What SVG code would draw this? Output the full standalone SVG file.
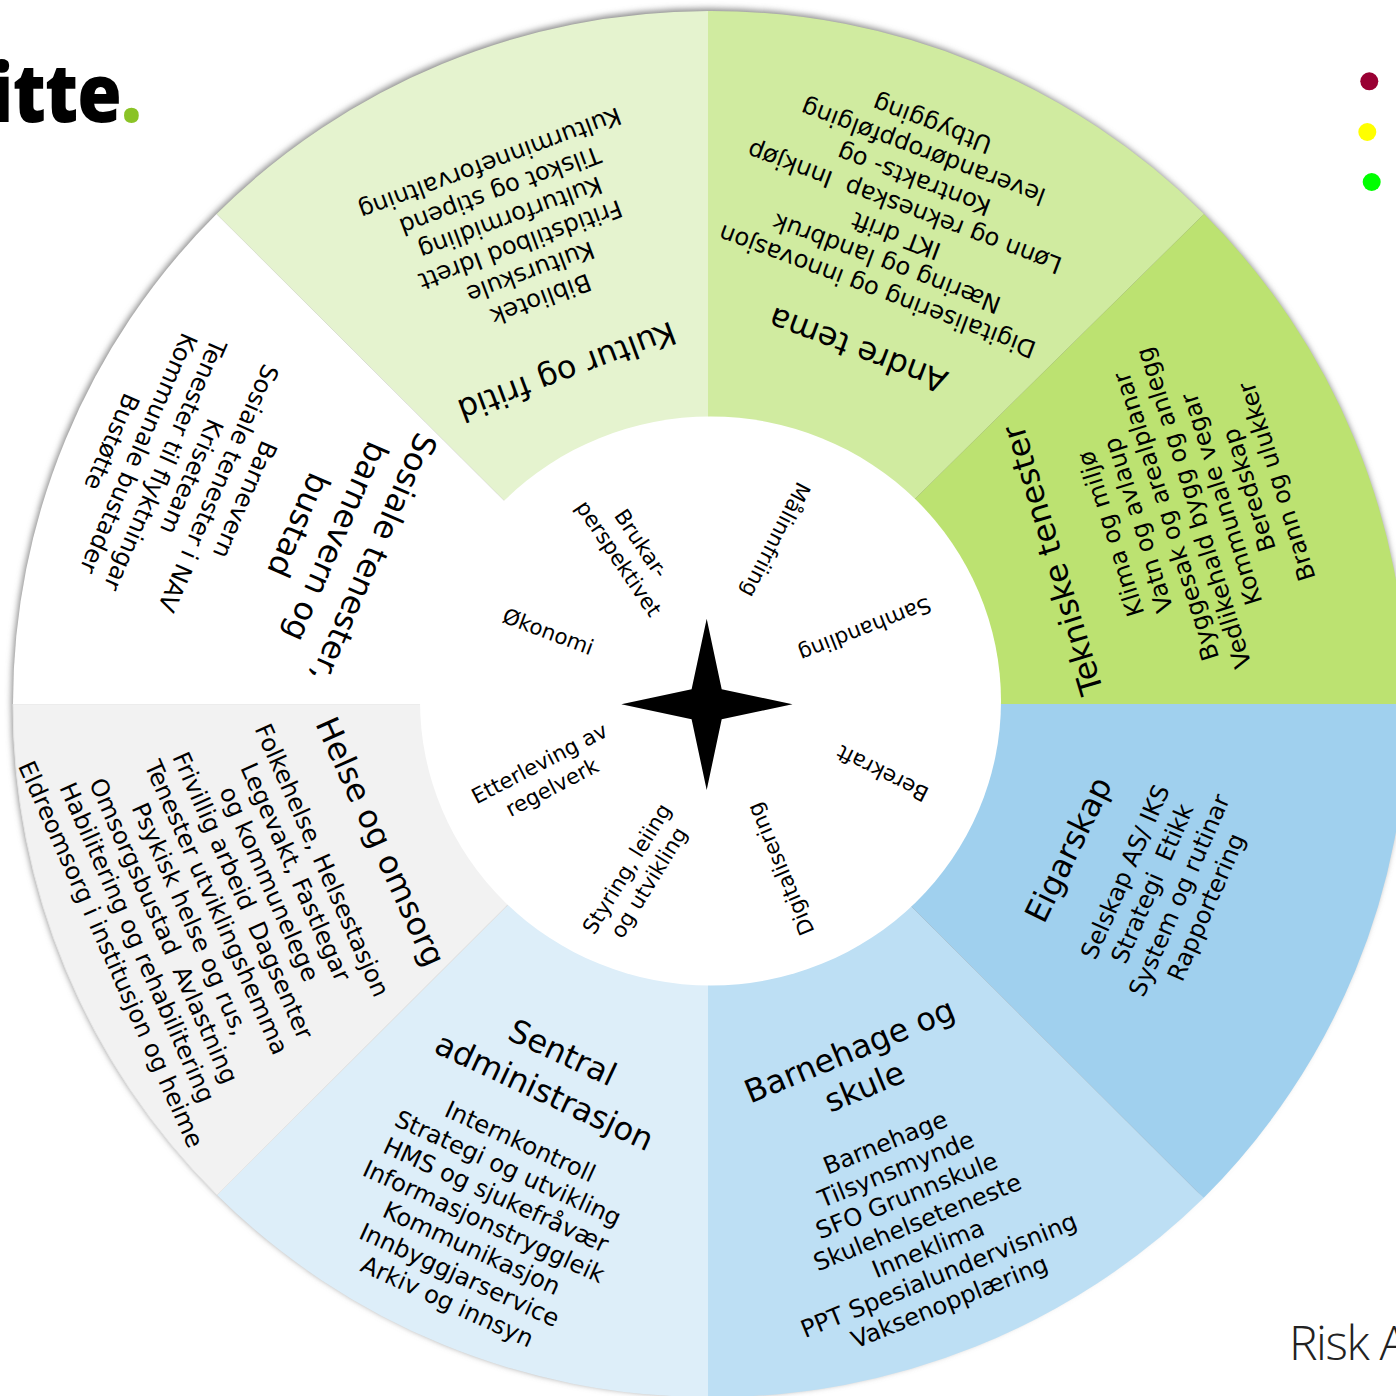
<svg xmlns="http://www.w3.org/2000/svg" width="1396" height="1396" viewBox="0 0 1396 1396">
<style>
text{font-family:"DejaVu Sans","Verdana",sans-serif;fill:#000;text-anchor:middle;white-space:pre}
.t{font-size:32px}
.b{font-size:24.2px}
.c{font-size:21.4px}
</style>
<defs><filter id="soft" x="-5%" y="-5%" width="110%" height="110%"><feGaussianBlur stdDeviation="3"/></filter></defs>
<rect width="1396" height="1396" fill="#fff"/>
<ellipse cx="709" cy="702" rx="697.5" ry="693.5" fill="#8a8a8a" filter="url(#soft)"/>
<g id="node-kultur">
<path fill="#E5F3CF" d="M708 704L504.5 501L216.5 214A697 693 0 0 1 708 11Z"/>
<text class="t" transform="translate(567 371.6) rotate(159.5)" y="11">Kultur og fritid</text>
<g transform="translate(541 300) rotate(159.5)" class="b">
<text y="9">Bibliotek</text><text y="38">Kulturskule</text><text y="67">Fritidstilbod Idrett</text><text y="96">Kulturformidling</text><text y="125">Tilskot og stipend</text><text y="154">Kulturminneforvaltning</text>
</g></g>
<g id="node-andre">
<path fill="#D0EBA0" d="M708 704L708 11A697 693 0 0 1 1204 214L917.4 496.4Z"/>
<text class="t" transform="translate(858 350) rotate(200.6)" y="11">Andre tema</text>
<g transform="translate(877 292) rotate(200.6)" class="b">
<text y="9">Digitalisering og innovasjon</text><text x="1" y="38.3">Næring og landbruk</text><text x="2" y="67.6">IKT drift</text><text x="4" y="96.9">Lønn og rekneskap  Innkjøp</text><text x="5" y="126.2">Kontrakts- og</text><text x="6" y="155.5">leverandøroppfølging</text><text x="7.5" y="184.8">Utbygging</text>
</g></g>
<g id="node-tekniske">
<path fill="#BCE271" d="M708 704L917.4 496.4L1204 214A697 693 0 0 1 1407 704Z"/>
<text class="t" transform="translate(1052.7 560) rotate(-106.7)" y="11">Tekniske tenester</text>
<g transform="translate(1110 534) rotate(-107.5)" class="b">
<text y="9">Klima og miljø</text><text y="38">Vatn og avlaup</text><text y="67">Byggesak og arealplanar</text><text y="96">Vedlikehald bygg og anlegg</text><text y="125">Kommunale vegar</text><text y="154">Beredskap</text><text y="183">Brann og ulukker</text>
</g></g>
<g id="node-eigarskap">
<path fill="#A0D0EE" d="M708 704L1407 704A697 693 0 0 1 1203.6 1198L913.4 908.5Z"/>
<text class="t" transform="translate(1068.5 849.6) rotate(-64)" y="11">Eigarskap</text>
<g transform="translate(1124.5 871.5) rotate(-66.5)" class="b">
<text y="9">Selskap AS/ IKS</text><text y="38.5">Strategi  Etikk</text><text y="68">System og rutinar</text><text y="97.5">Rapportering</text>
</g></g>
<g id="node-barnehage">
<path fill="#BDDFF4" d="M708 704L913.4 908.5L1203.6 1198A697 693 0 0 1 708 1397Z"/>
<g transform="translate(849.6 1050.7) rotate(-22.5)" class="t"><text y="11">Barnehage og</text><text y="50">skule</text></g>
<g transform="translate(885 1142) rotate(-22)" class="b">
<text y="9">Barnehage</text><text y="37.6">Tilsynsmynde</text><text y="66.2">SFO Grunnskule</text><text y="94.8">Skulehelseteneste</text><text y="123.4">Inneklima</text><text y="152">PPT Spesialundervisning</text><text y="180.6">Vaksenopplæring</text>
</g></g>
<g id="node-sentral">
<path fill="#DDEEF9" d="M708 704L708 1397A697 693 0 0 1 217 1195L506.7 906Z"/>
<g transform="translate(562.5 1052.7) rotate(25)" class="t"><text y="11">Sentral</text><text y="54">administrasjon</text></g>
<g transform="translate(520.5 1141) rotate(24.5)" class="b">
<text y="9">Internkontroll</text><text y="38.3">Strategi og utvikling</text><text y="67.6">HMS og sjukefråvær</text><text y="96.9">Informasjonstryggleik</text><text y="126.2">Kommunikasjon</text><text y="155.5">Innbyggjarservice</text><text y="184.8">Arkiv og innsyn</text>
</g></g>
<g id="node-helse">
<path fill="#F2F2F2" stroke="#E6E6E6" d="M708 704L506.7 906L217 1195A697 693 0 0 1 13 704Z"/>
<text class="t" transform="translate(380.5 841.6) rotate(65.7)" y="11">Helse og omsorg</text>
<g transform="translate(322.7 860) rotate(66)" class="b">
<text y="9">Folkehelse, Helsestasjon</text><text y="37.9">Legevakt, Fastlegar</text><text y="66.8">og kommunelege</text><text y="95.7">Frivillig arbeid  Dagsenter</text><text y="124.6">Tenester utviklingshemma</text><text y="153.5">Psykisk helse og rus,</text><text y="182.4">Omsorgsbustad  Avlastning</text><text y="211.3">Habilitering og rehabilitering</text><text y="240.2">Eldreomsorg i institusjon og heime</text>
</g></g>
<g id="node-sosiale">
<path fill="#FFFFFF" d="M708 704L13 704A697 693 0 0 1 216.5 214L504.5 501Z"/>
<g transform="translate(373.8 558) rotate(113.5)" class="t"><text y="11">Sosiale tenester,</text><text y="52">barnevern og</text><text y="93">bustad</text></g>
<g transform="translate(245.5 500) rotate(113.5)" class="b">
<text y="9">Barnevern</text><text y="38">Sosiale tenester i NAV</text><text y="67">Kriseteam</text><text y="96">Tenester til flyktningar</text><text y="125">Kommunale bustader</text><text y="154">Bustøtte</text>
</g></g>
<g id="node-hub">
<ellipse cx="710.5" cy="701" rx="290.5" ry="284.5" fill="#fff"/>
<path fill="#000" d="M706.7 618.8L721.7 689.2L792.5 704.2L721.7 719.3L706.7 790L691.6 719.3L621.3 704.2L691.6 689.2Z"/>
<g class="c">
<text transform="translate(775.5 539.8) rotate(117)" y="7">Målinnfriing</text>
<text transform="translate(864.7 629) rotate(158.6)" y="7">Samhandling</text>
<text transform="translate(882.8 773) rotate(206.6)" y="7">Berekraft</text>
<text transform="translate(781 869) rotate(-112.8)" y="7">Digitalisering</text>
<g transform="translate(627 869) rotate(-58.4)"><text y="7">Styring, leiing</text><text y="33">og utvikling</text></g>
<g transform="translate(539.6 763.7) rotate(-27.5)"><text y="7">Etterleving av</text><text y="34">regelverk</text></g>
<text transform="translate(548 632) rotate(20.6)" y="7">Økonomi</text>
<g transform="translate(640.8 543.6) rotate(56)"><text y="7">Brukar-</text><text y="34">perspektivet</text></g>
</g></g>
<g id="legend">
<circle cx="1369.3" cy="81.3" r="9" fill="#990033"/>
<circle cx="1367.3" cy="132" r="9" fill="#FFFF00"/>
<circle cx="1371.7" cy="182" r="9" fill="#00FF00"/>
</g>
<g id="logo">
<text transform="translate(141 122) scale(.88 1)" style="font-family:'Open Sans',sans-serif;font-weight:800;font-size:82px;text-anchor:end;letter-spacing:-1px">itte<tspan fill="#8AC326">.</tspan></text>
</g>
<text x="1289" y="1360" style="font-family:'Open Sans',sans-serif;font-weight:300;font-size:48px;text-anchor:start;fill:#222;letter-spacing:-1.4px">Risk A</text>
</svg>
